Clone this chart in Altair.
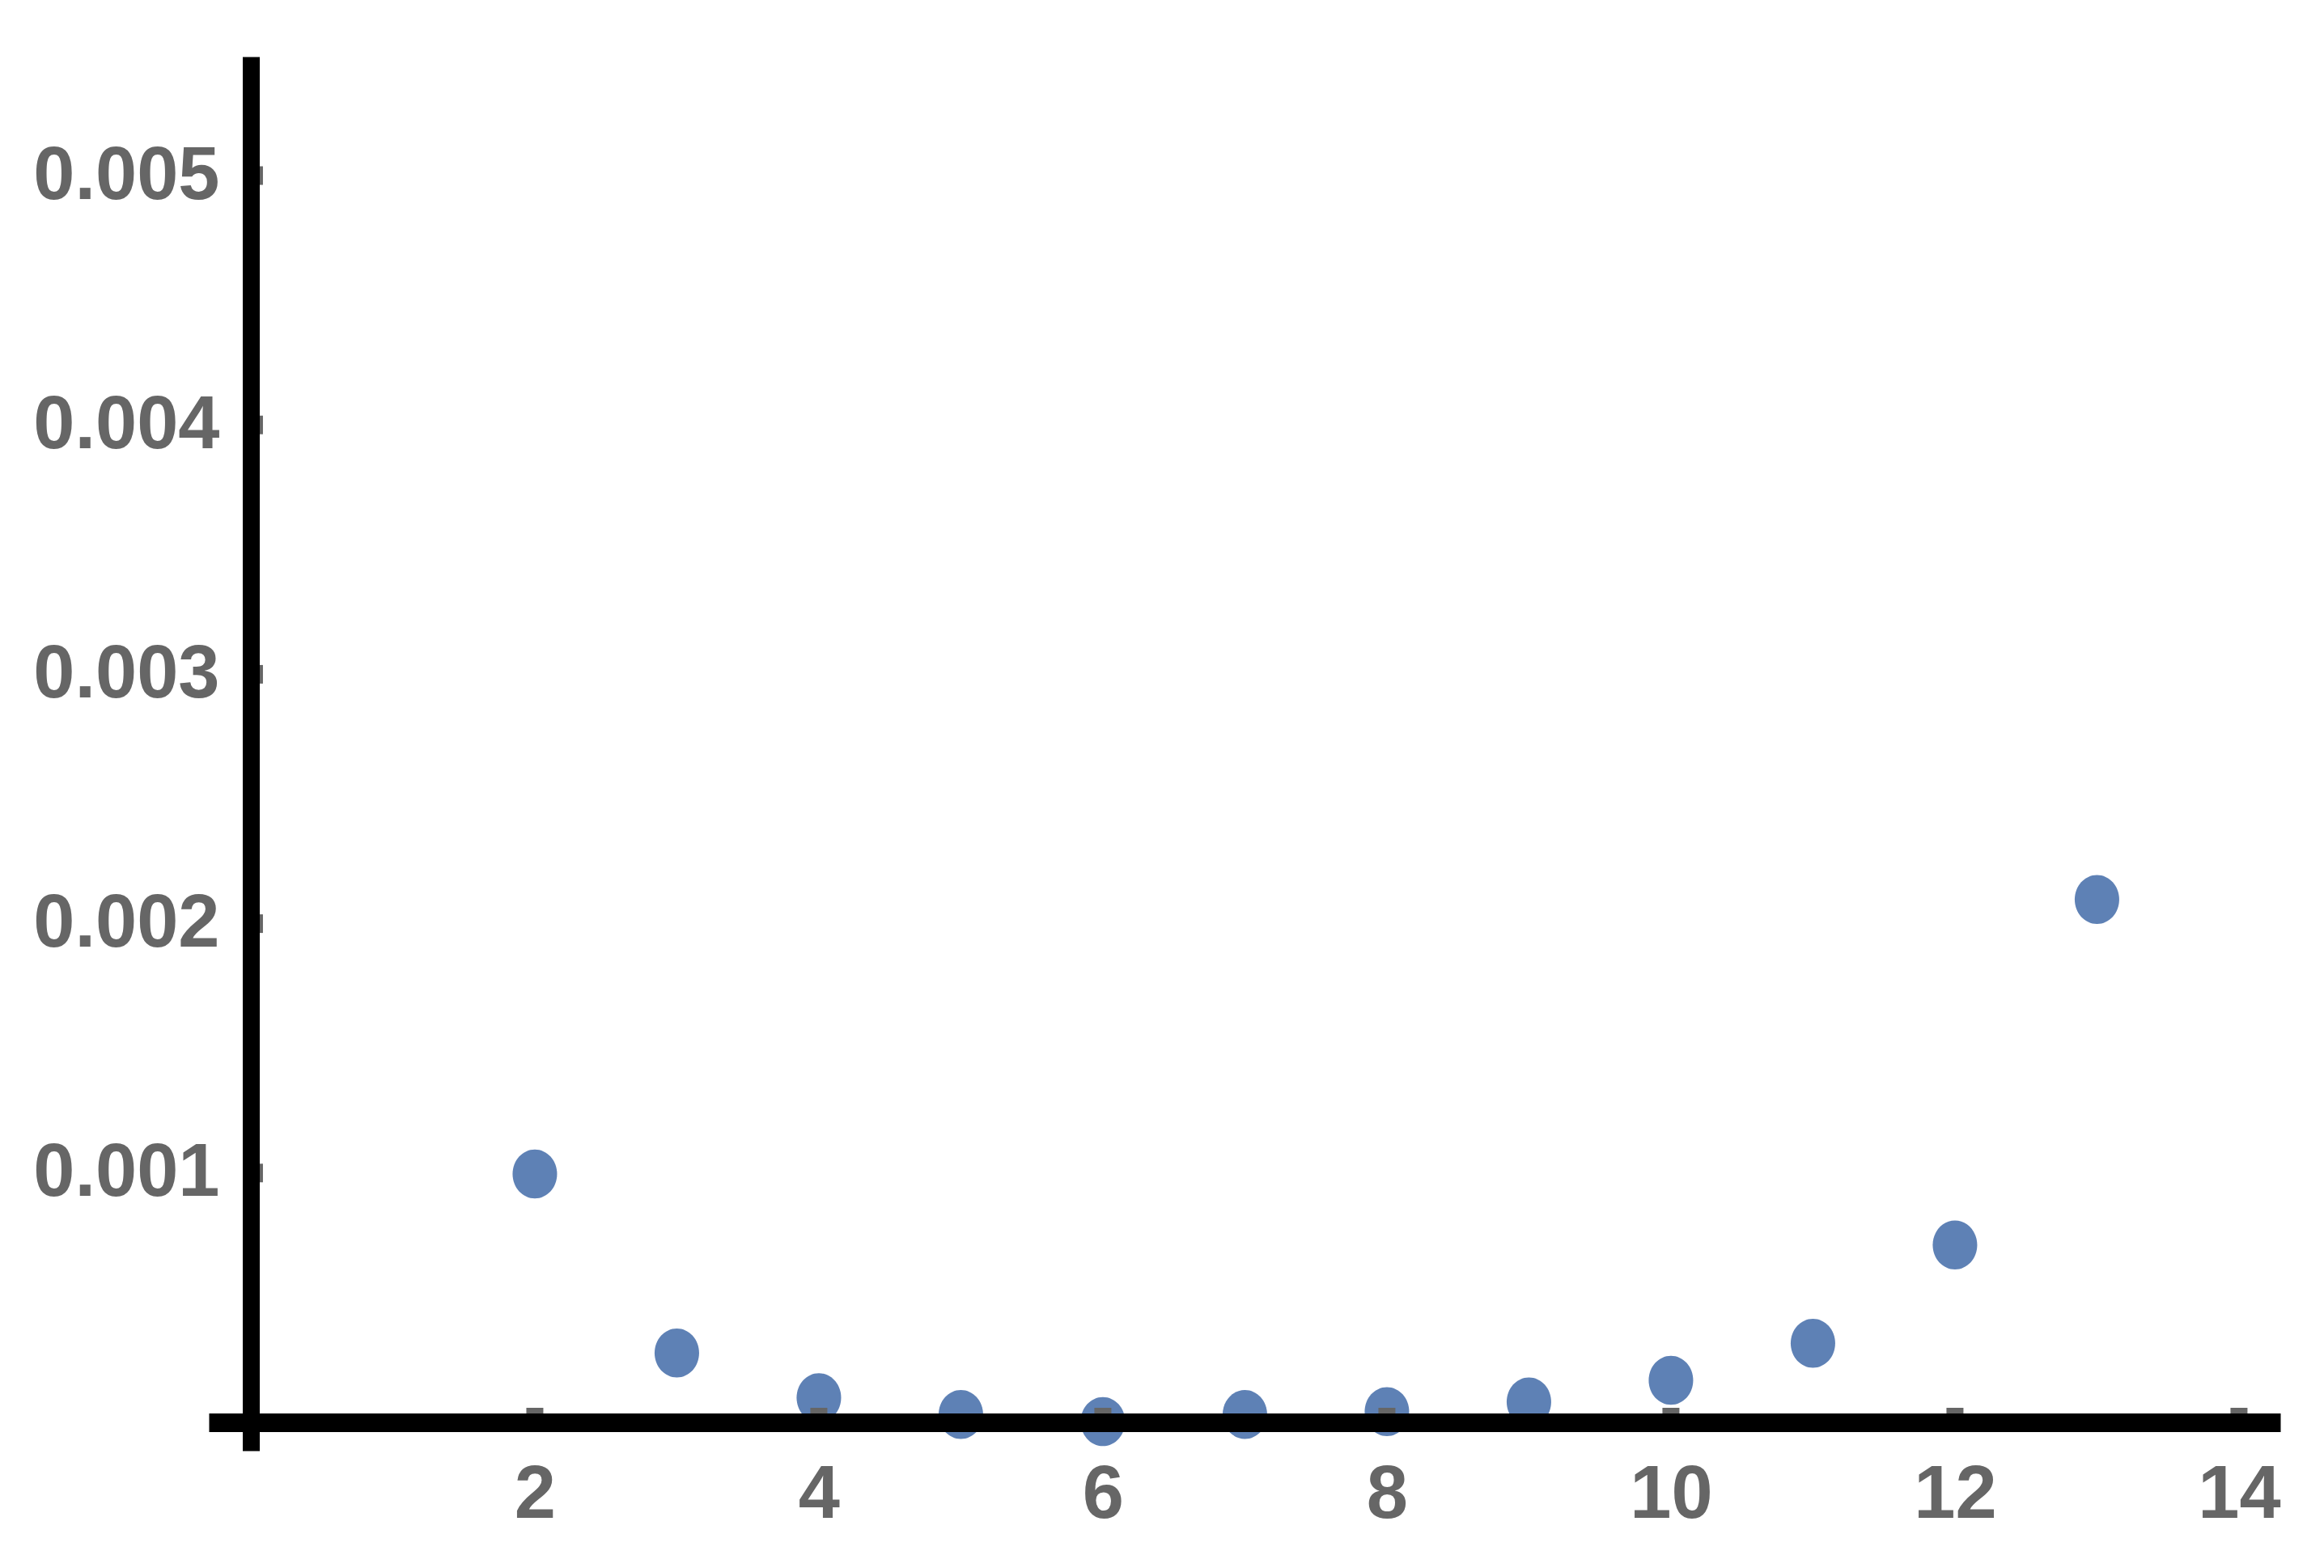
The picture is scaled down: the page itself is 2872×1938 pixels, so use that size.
import altair as alt
import pandas as pd

# data
n_values = [2, 3, 4, 5, 6, 7, 8, 9, 10, 11, 12, 13]
y_values = [0.000996, 0.000278, 0.000099, 0.000032, 0.000003, 0.000032,
            0.000043, 0.000082, 0.000169, 0.000317, 0.000711, 0.002097]
x_tick_values = [2, 4, 6, 8, 10, 12, 14]
y_tick_values = [0.001, 0.002, 0.003, 0.004, 0.005]
x_domain = [-0.296, 14.291]
y_domain = [-0.0001136, 0.005477]

FONT = "Liberation Sans, Arial, sans-serif"
FONT_SIZE = 92
LABEL_COLOR = "#666666"
POINT_COLOR = "#5E81B5"

points_df = pd.DataFrame({"x": n_values, "y": y_values})
xt_df = pd.DataFrame({"x": x_tick_values, "y": [0] * len(x_tick_values)})
yt_df = pd.DataFrame({"x": [0] * len(y_tick_values), "y": y_tick_values})

x_axis = alt.Axis(values=x_tick_values, format="d", offset=-35, domainColor="black",
                  domainWidth=23, ticks=False, tickSize=0, grid=False, title=None,
                  labelFont=FONT, labelFontSize=FONT_SIZE, labelFontWeight="bold",
                  labelColor=LABEL_COLOR, labelPadding=44, labelFlush=False,
                  labelOverlap=False, labelLimit=0, zindex=1)
y_axis = alt.Axis(values=y_tick_values, format=".3f", offset=-52, domainColor="black",
                  domainWidth=21, ticks=False, tickSize=0, grid=False, title=None,
                  labelFont=FONT, labelFontSize=FONT_SIZE, labelFontWeight="bold",
                  labelColor=LABEL_COLOR, labelPadding=39, labelFlush=False,
                  labelOverlap=False, labelLimit=0, zindex=1)

def enc(chart):
    return chart.encode(
        x=alt.X("x:Q", scale=alt.Scale(domain=x_domain, nice=False, zero=False), axis=x_axis),
        y=alt.Y("y:Q", scale=alt.Scale(domain=y_domain, nice=False, zero=False), axis=y_axis),
    )

ellipse = "M-1,0 A1,1.1,0,1,1,1,0 A1,1.1,0,1,1,-1,0 Z"

points = enc(alt.Chart(points_df).mark_point(
    filled=True, shape=ellipse, size=3025, color=POINT_COLOR, opacity=1, strokeWidth=0))

x_ticks = enc(alt.Chart(xt_df).mark_tick(
    orient="vertical", size=18, thickness=21, yOffset=-9, color=LABEL_COLOR, opacity=1))

y_ticks = enc(alt.Chart(yt_df).mark_tick(
    orient="horizontal", size=15, thickness=23, xOffset=7.5, color=LABEL_COLOR, opacity=1))

chart = alt.layer(points, x_ticks, y_ticks).properties(
    width=2560,
    height=1723,
    padding={"left": 250, "top": 62, "right": 40, "bottom": 130},
    autosize=alt.AutoSizeParams(type="none"),
    background="white",
).configure_view(stroke=None)

chart.save("out.html", embed_options={"renderer": "svg", "actions": False})
